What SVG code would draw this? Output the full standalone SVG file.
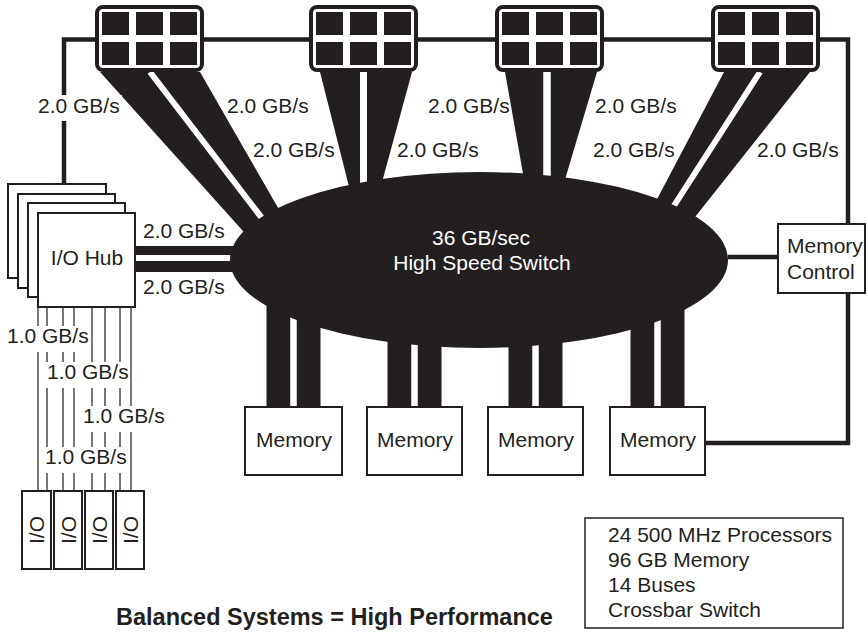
<svg xmlns="http://www.w3.org/2000/svg" width="867" height="633" viewBox="0 0 867 633">
<style>
  .t{font-family:"Liberation Sans",Arial,Helvetica,sans-serif;font-size:21px;fill:#231f20}
  .w{fill:#fff}
  .title{font-family:"Liberation Sans",Arial,Helvetica,sans-serif;font-size:23.5px;font-weight:bold;fill:#231f20}
  .box{fill:#fff;stroke:#231f20;stroke-width:2}
  .bus{fill:none;stroke:#231f20;stroke-width:4.5}
  .thin{fill:none;stroke:#231f20;stroke-width:1.2}
  .band{fill:#231f20}
  .gap{fill:none;stroke:#fff}
  .bg{fill:#fff}
</style>
<defs>
  <!-- processor module: rounded frame holding a 2 x 3 array of chips -->
  <g id="cpu">
    <rect x="2" y="2" width="105" height="63" rx="6" fill="#fff" stroke="#231f20" stroke-width="4"/>
    <rect x="7" y="7" width="27" height="23" class="band"/>
    <rect x="41" y="7" width="27" height="23" class="band"/>
    <rect x="75" y="7" width="27" height="23" class="band"/>
    <rect x="7" y="37" width="27" height="23" class="band"/>
    <rect x="41" y="37" width="27" height="23" class="band"/>
    <rect x="75" y="37" width="27" height="23" class="band"/>
  </g>
  <!-- twin memory bus: two bars split by a light stripe -->
  <g id="membus">
    <rect x="-27" y="290" width="54" height="118" class="band"/>
    <line x1="0" y1="295" x2="0" y2="408" class="gap" stroke-width="6.5"/>
  </g>
</defs>

<g id="connectors">
  <!-- processor ring bus -->
  <path class="bus" d="M64 184 V39.5 H848 V224"/>
  <path class="bus" d="M848 293 V443 H705"/>
  <path class="bus" d="M728 257 H778"/>

  <!-- processor-to-switch buses -->
  <polygon class="band" points="100,72 200,72 308,260 269,260"/>
  <line class="gap" stroke-width="6" x1="150" y1="72" x2="268" y2="226"/>
  <polygon class="band" points="320,72 412,72 369,230 360,230"/>
  <line class="gap" stroke-width="7" x1="363.5" y1="72" x2="363.5" y2="200"/>
  <polygon class="band" points="505,72 597,72 550,230 533,230"/>
  <line class="gap" stroke-width="7.5" x1="547" y1="72" x2="547" y2="200"/>
  <polygon class="band" points="724,72 810,72 661,260 625,260"/>
  <line class="gap" stroke-width="6" x1="760" y1="72" x2="668" y2="215"/>

  <!-- I/O hub buses -->
  <rect x="135" y="246" width="110" height="26" class="band"/>
  <line class="gap" stroke-width="6" x1="135" y1="258" x2="245" y2="258"/>

  <!-- memory buses -->
  <use href="#membus" x="293.5"/>
  <use href="#membus" x="414.5"/>
  <use href="#membus" x="535.5"/>
  <use href="#membus" x="657.5"/>

  <!-- I/O links -->
  <path class="thin" d="M38 307 V491 M47 307 V491 M63 307 V491 M74 307 V491 M92 307 V491 M105 307 V491 M120 307 V491 M131 307 V491"/>
</g>

<g id="switch">
  <ellipse cx="479" cy="260" rx="249" ry="88" fill="#231f20"/>
  <text class="t w" x="481" y="245" text-anchor="middle">36 GB/sec</text>
  <text class="t w" x="482" y="270" text-anchor="middle">High Speed Switch</text>
</g>

<g id="cpu1"><use href="#cpu" x="95" y="5"/></g>
<g id="cpu2"><use href="#cpu" x="309" y="5"/></g>
<g id="cpu3"><use href="#cpu" x="495" y="5"/></g>
<g id="cpu4"><use href="#cpu" x="711" y="5"/></g>

<g id="io-hub">
  <rect class="box" x="8" y="184" width="98" height="94"/>
  <rect class="box" x="18" y="194" width="97" height="94"/>
  <rect class="box" x="28" y="203" width="97" height="94"/>
  <rect class="box" x="38" y="213" width="97" height="94"/>
  <text class="t" x="87" y="265" text-anchor="middle">I/O Hub</text>
</g>

<g id="memory1"><rect class="box" x="245" y="407" width="97" height="68"/><text class="t" x="294" y="447" text-anchor="middle">Memory</text></g>
<g id="memory2"><rect class="box" x="367" y="407" width="95" height="68"/><text class="t" x="415" y="447" text-anchor="middle">Memory</text></g>
<g id="memory3"><rect class="box" x="488" y="407" width="95" height="68"/><text class="t" x="536" y="447" text-anchor="middle">Memory</text></g>
<g id="memory4"><rect class="box" x="610" y="407" width="95" height="68"/><text class="t" x="658" y="447" text-anchor="middle">Memory</text></g>

<g id="memory-control">
  <rect class="box" x="778" y="224" width="87" height="69"/>
  <text class="t" x="787" y="253">Memory</text>
  <text class="t" x="787" y="279">Control</text>
</g>

<g id="io1"><rect class="box" x="22" y="491" width="29" height="78"/><text class="t" transform="translate(44 530) rotate(-90)" text-anchor="middle">I/O</text></g>
<g id="io2"><rect class="box" x="54" y="491" width="28" height="78"/><text class="t" transform="translate(75.5 530) rotate(-90)" text-anchor="middle">I/O</text></g>
<g id="io3"><rect class="box" x="85" y="491" width="28" height="78"/><text class="t" transform="translate(106.5 530) rotate(-90)" text-anchor="middle">I/O</text></g>
<g id="io4"><rect class="box" x="116" y="491" width="28" height="78"/><text class="t" transform="translate(137.5 530) rotate(-90)" text-anchor="middle">I/O</text></g>

<g id="labels">
  <rect class="bg" x="36" y="95" width="86" height="26"/>
  <text class="t" x="38" y="113">2.0 GB/s</text>
  <text class="t" x="227" y="113">2.0 GB/s</text>
  <text class="t" x="253" y="157">2.0 GB/s</text>
  <text class="t" x="397" y="157">2.0 GB/s</text>
  <text class="t" x="428" y="113">2.0 GB/s</text>
  <text class="t" x="595" y="113">2.0 GB/s</text>
  <text class="t" x="593" y="157">2.0 GB/s</text>
  <text class="t" x="757" y="157">2.0 GB/s</text>
  <text class="t" x="143" y="238">2.0 GB/s</text>
  <text class="t" x="143" y="294">2.0 GB/s</text>

  <rect class="bg" x="6" y="326" width="83" height="26"/>
  <text class="t" x="7" y="343">1.0 GB/s</text>
  <rect class="bg" x="46" y="362" width="83" height="26"/>
  <text class="t" x="47" y="379">1.0 GB/s</text>
  <rect class="bg" x="82" y="406" width="83" height="26"/>
  <text class="t" x="83" y="423">1.0 GB/s</text>
  <rect class="bg" x="44" y="447" width="83" height="26"/>
  <text class="t" x="45" y="464">1.0 GB/s</text>
</g>

<g id="legend">
  <rect x="585" y="518" width="258" height="110" fill="#fff" stroke="#231f20" stroke-width="1.5"/>
  <text class="t" x="608" y="542">24 500 MHz Processors</text>
  <text class="t" x="608" y="567">96 GB Memory</text>
  <text class="t" x="608" y="592">14 Buses</text>
  <text class="t" x="608" y="617">Crossbar Switch</text>
</g>

<text class="title" x="116" y="625">Balanced Systems = High Performance</text>
</svg>
